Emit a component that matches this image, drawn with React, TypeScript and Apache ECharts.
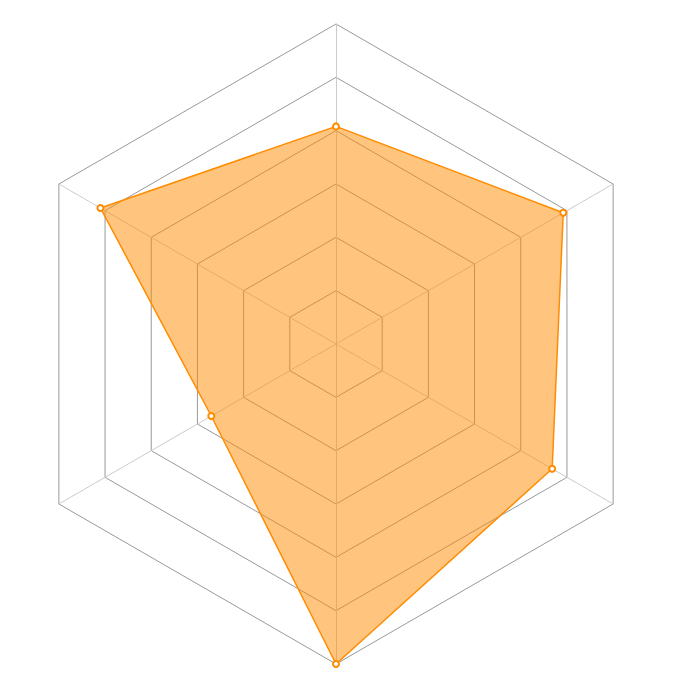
import { useEffect, useRef } from 'react'
import * as echarts from 'echarts'

// indicators go counter-clockwise from the top
const indicators = ['A', 'B', 'C', 'D', 'E', 'F']
const maxValue = 100
const values = [68, 85, 45, 100, 78, 82]

export default function App() {
  const ref = useRef<HTMLDivElement>(null)

  useEffect(() => {
    document.body.style.margin = '0'
    if (!ref.current) return
    const chart = echarts.init(ref.current, null, { renderer: 'svg' })
    chart.setOption({
      animation: false,
      radar: {
        center: [336, 344],
        radius: 320,
        startAngle: 90,
        splitNumber: 6,
        shape: 'polygon',
        indicator: indicators.map((name) => ({ name, max: maxValue, min: 0 })),
        axisName: { show: false },
        axisLine: { lineStyle: { color: '#cccccc', width: 1 } },
        splitLine: { lineStyle: { color: '#999999', width: 1 } },
        splitArea: { show: false },
      },
      series: [
        {
          type: 'radar',
          symbol: 'emptyCircle',
          symbolSize: 6,
          lineStyle: { color: '#ff8c00', width: 1.5 },
          itemStyle: { color: '#ff8c00', borderColor: '#ff8c00', borderWidth: 1.5 },
          areaStyle: { color: '#ff8c00', opacity: 0.5 },
          data: [{ value: values }],
        },
      ],
    })
    return () => chart.dispose()
  }, [])

  return <div ref={ref} style={{ width: 688, height: 688 }} />
}
